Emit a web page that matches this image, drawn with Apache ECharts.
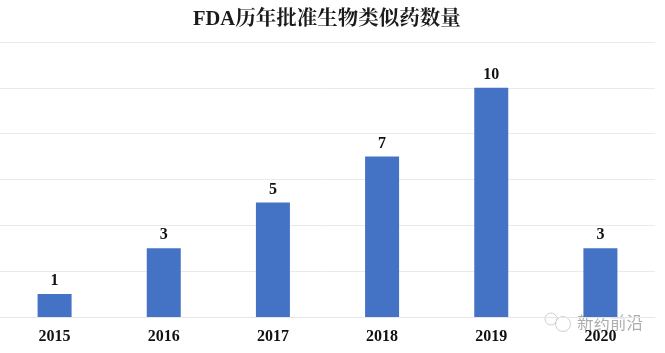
<!DOCTYPE html>
<html>
<head>
<meta charset="utf-8">
<style>
  html, body { margin: 0; padding: 0; background: #fff; }
  #chart { width: 665px; height: 353px; }
</style>
<script src="https://cdn.jsdelivr.net/npm/echarts@6/dist/echarts.min.js"></script>
</head>
<body>
<div id="chart"></div>
<script>
const years = ['2015', '2016', '2017', '2018', '2019', '2020'];
const approvals = [1, 3, 5, 7, 10, 3];

const serifFont = '"Liberation Serif", "Noto Serif CJK SC", "Noto Sans CJK SC", serif';
const watermarkColor = 'rgba(120, 120, 120, 0.6)';

const chart = echarts.init(document.getElementById('chart'));

chart.setOption({
  backgroundColor: '#fff',
  animation: false,
  title: {
    text: 'FDA历年批准生物类似药数量',
    left: 188,
    top: 4,
    textStyle: {
      color: '#1a1a1a',
      fontFamily: serifFont,
      fontSize: 20.5,
      fontWeight: 'bold',
    },
  },
  grid: { left: 0, right: 10, top: 42, bottom: 36 },
  xAxis: {
    type: 'category',
    data: years,
    axisLine: { lineStyle: { color: '#e6e6e6', width: 1 } },
    axisTick: { show: false },
    axisLabel: {
      color: '#111',
      fontFamily: serifFont,
      fontSize: 16,
      fontWeight: 'bold',
      margin: 12,
    },
  },
  yAxis: {
    type: 'value',
    min: 0,
    max: 12,
    interval: 2,
    axisLine: { show: false },
    axisTick: { show: false },
    axisLabel: { show: false },
    splitLine: { lineStyle: { color: '#eaeaea', width: 1 } },
  },
  series: [
    {
      type: 'bar',
      data: approvals,
      barWidth: 34,
      itemStyle: { color: '#4472c4' },
      label: {
        show: true,
        position: 'top',
        distance: 5,
        color: '#111',
        fontFamily: serifFont,
        fontSize: 16,
        fontWeight: 'bold',
      },
    },
  ],
  graphic: [
    {
      type: 'text',
      right: 22,
      top: 314,
      silent: true,
      style: {
        text: '新药前沿',
        fill: watermarkColor,
        font: '16.5px "Noto Sans CJK SC", sans-serif',
      },
    },
    {
      type: 'circle',
      silent: true,
      shape: { cx: 551, cy: 319, r: 6 },
      style: { fill: 'none', stroke: 'rgba(120, 120, 120, 0.35)', lineWidth: 1 },
    },
    {
      type: 'circle',
      silent: true,
      shape: { cx: 563, cy: 324, r: 7.5 },
      style: { fill: '#fff', stroke: 'rgba(120, 120, 120, 0.35)', lineWidth: 1 },
    },
  ],
});
</script>
</body>
</html>
